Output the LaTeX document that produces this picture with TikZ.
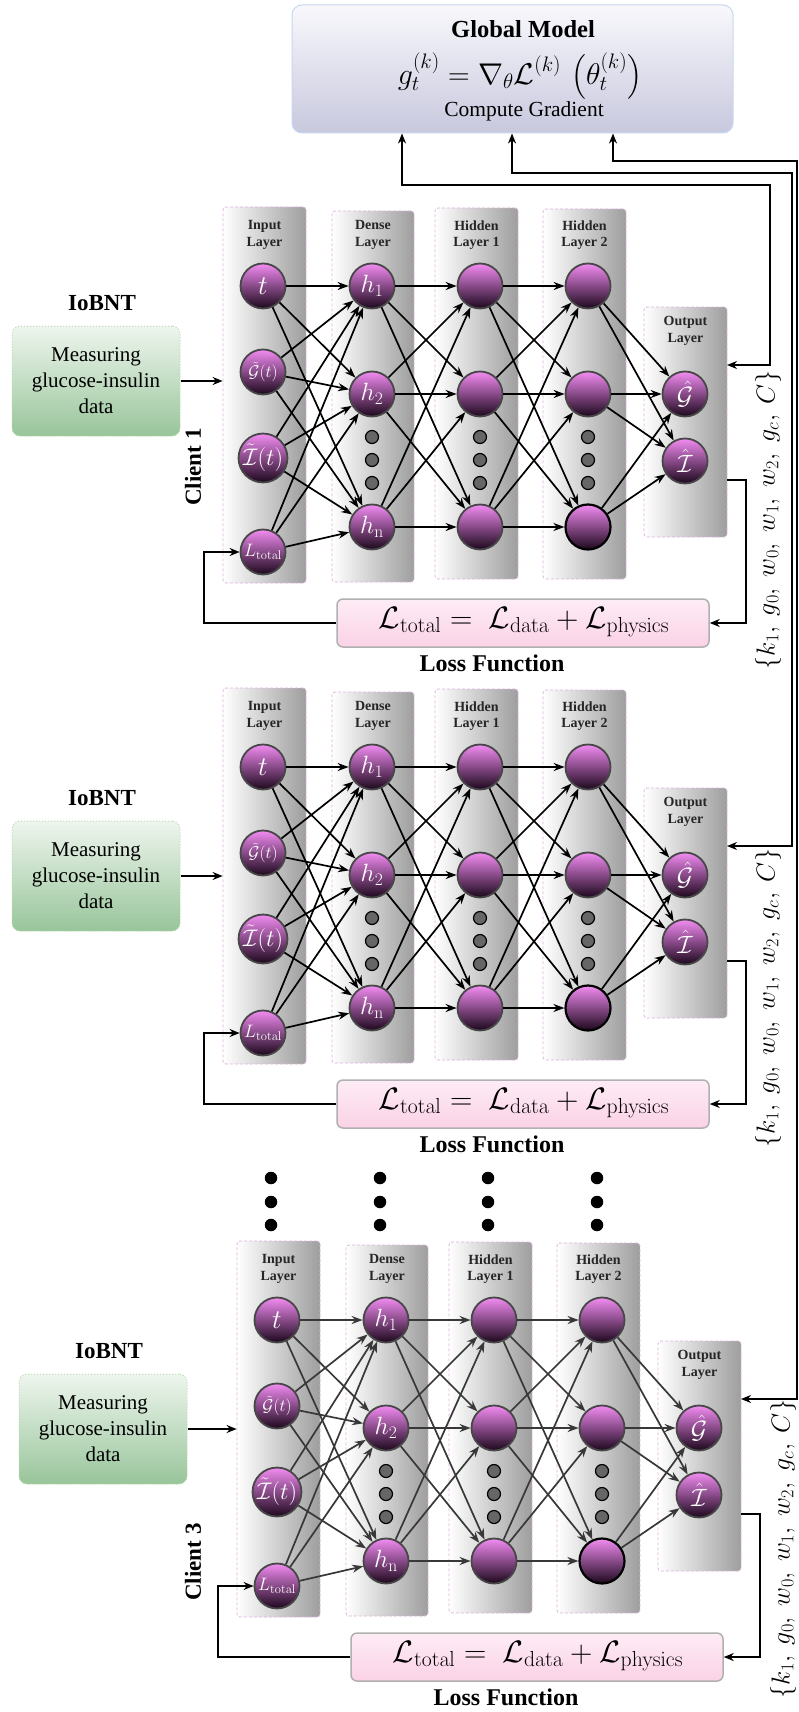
\RequirePackage{fix-cm}
\documentclass[tikz,border=0pt]{standalone}
\usepackage{amsmath}
\usepackage[no-math]{fontspec}
\setmainfont{Liberation Serif}
\usetikzlibrary{arrows.meta}

\definecolor{nodetop}{RGB}{242,140,242}
\definecolor{nodebot}{RGB}{28,8,28}
\definecolor{colborder}{RGB}{222,180,222}
\definecolor{senstop}{RGB}{238,245,238}
\definecolor{sensbot}{RGB}{152,197,154}
\definecolor{sensborder}{RGB}{185,220,175}
\definecolor{glbtop}{RGB}{248,248,252}
\definecolor{glbbot}{RGB}{200,200,222}
\definecolor{glbborder}{RGB}{200,216,240}
\definecolor{losstop}{RGB}{253,236,245}
\definecolor{lossbot}{RGB}{251,210,230}
\definecolor{lossborder}{RGB}{176,176,176}

\tikzset{
  nnode/.style={circle, minimum size=45pt, inner sep=0pt, draw=black!72, line width=1.8pt,
    top color=nodetop, bottom color=nodebot, text=white, font=\fontsize{25}{27}\selectfont},
  gdot/.style={circle, minimum size=13pt, inner sep=0pt, draw=black, line width=1.2pt, fill=black!60},
  bdot/.style={circle, minimum size=12.5pt, inner sep=0pt, fill=black},
  layercol/.style={draw=colborder, dash pattern=on 3pt off 2pt, line width=0.8pt,
    left color=white, right color=black!38, rounded corners=3pt, inner sep=0pt},
  layerlbl/.style={font=\fontsize{14}{16.5}\selectfont\bfseries, align=center, text=black!85},
  nnedge/.style={-{Stealth[length=11pt,width=8pt]}, line width=1.7pt},
  link/.style={line width=1.8pt},
  arrowend/.style={-{Stealth[length=10pt,width=8pt]}},
  arrowboth/.style={{Stealth[length=10pt,width=8pt]}-{Stealth[length=10pt,width=8pt]}},
  sensbox/.style={draw=sensborder, dotted, line width=1pt, rounded corners=8pt,
    top color=senstop, bottom color=sensbot, align=center, inner sep=0pt,
    font=\fontsize{21}{26}\selectfont},
  tagtext/.style={font=\fontsize{23}{26}\selectfont\bfseries},
  lossbox/.style={draw=lossborder, line width=1.5pt, rounded corners=6pt,
    top color=losstop, bottom color=lossbot, inner sep=0pt},
  clientlbl/.style={rotate=90, font=\fontsize{23}{25}\selectfont\bfseries},
  paramlbl/.style={rotate=90, font=\fontsize{26}{28}\selectfont},
}

% one client network: prefix, x shift, y shift, edge colour
\newcommand\netclient[4]{%
\begin{scope}[shift={(#2,#3)}]
  \node[layercol, minimum width=83pt, minimum height=376pt] (#1incol) at (264.5,395) {};
  \node[layercol, minimum width=82pt, minimum height=371pt] (#1dncol) at (373,396.5) {};
  \node[layercol, minimum width=83pt, minimum height=371pt] (#1hacol) at (476.5,393.5) {};
  \node[layercol, minimum width=83pt, minimum height=370pt] (#1hbcol) at (584.5,394) {};
  \node[layercol, minimum width=83pt, minimum height=230pt] (#1outcol) at (685.5,422) {};
  \node[layerlbl] (#1inlbl) at (264.5,235) {Input\\Layer};
  \node[layerlbl] (#1dnlbl) at (373,235) {Dense\\Layer};
  \node[layerlbl] (#1halbl) at (476.5,235) {Hidden\\Layer 1};
  \node[layerlbl] (#1hblbl) at (584.5,235) {Hidden\\Layer 2};
  \node[layerlbl] (#1outlbl) at (685.5,331) {Output\\Layer};
  % neurons
  \node[nnode, font=\fontsize{27}{29}\selectfont] (#1i1) at (263,286) {$t$};
  \node[nnode, font=\fontsize{17}{19}\selectfont] (#1i2) at (263,372) {$\tilde{\mathcal{G}}(t)$};
  \node[nnode, font=\fontsize{24}{26}\selectfont] (#1i3) at (263,458) {$\tilde{\mathcal{I}}(t)$};
  \node[nnode, font=\fontsize{18}{20}\selectfont] (#1i4) at (263,552) {$L_{\mathrm{total}}$};
  \node[nnode] (#1d1) at (372,286) {$h_1$};
  \node[nnode] (#1d2) at (372,394) {$h_2$};
  \node[nnode] (#1d3) at (372,527) {$h_{\mathrm{n}}$};
  \node[nnode] (#1a1) at (480,286) {};
  \node[nnode] (#1a2) at (480,394) {};
  \node[nnode] (#1a3) at (480,527) {};
  \node[nnode] (#1b1) at (588,286) {};
  \node[nnode] (#1b2) at (588,394) {};
  \node[nnode, draw=black, line width=2.2pt] (#1b3) at (588,527) {};
  \node[nnode] (#1o1) at (685,394) {$\hat{\mathcal{G}}$};
  \node[nnode] (#1o2) at (685,461) {$\hat{\mathcal{I}}$};
  \foreach \xx/\cc in {372/d,480/a,588/b}
    \foreach \yy/\kk in {437/1,460/2,483/3}
      \node[gdot] (#1\cc dot\kk) at (\xx,\yy) {};
  % weights
  \foreach \src in {i1,i2,i3,i4}
    \foreach \dst in {d1,d2,d3}
      \draw[nnedge, draw=#4] (#1\src) -- (#1\dst);
  \foreach \src in {d1,d2,d3}
    \foreach \dst in {a1,a2,a3}
      \draw[nnedge, draw=#4] (#1\src) -- (#1\dst);
  \foreach \src in {a1,a2,a3}
    \foreach \dst in {b1,b2,b3}
      \draw[nnedge, draw=#4] (#1\src) -- (#1\dst);
  \foreach \src in {b1,b2,b3}
    \foreach \dst in {o1,o2}
      \draw[nnedge, draw=#4] (#1\src) -- (#1\dst);
  % loss
  \node[lossbox, minimum width=372pt, minimum height=48pt] (#1loss) at (523,623) {};
  \node[font=\fontsize{31}{33}\selectfont] (#1lossf) at (524,622)
    {$\mathcal{L}_{\mathrm{total}} =\ \mathcal{L}_{\mathrm{data}} + \mathcal{L}_{\mathrm{physics}}$};
  \node[font=\fontsize{24}{27}\selectfont\bfseries] (#1losslbl) at (492,663) {Loss Function};
  \coordinate (#1in) at (727,365);
  \coordinate (#1out) at (727,480);
  \coordinate (#1fbl) at (204,552);
  \coordinate (#1fbr) at (746,623);
  \draw[link, arrowend] (#1loss.west) -| (#1fbl) -- (#1i4);
  \draw[link, arrowend] (#1out) -| (#1fbr) -- (#1loss.east);
\end{scope}}

% sensing block: prefix, x shift, y shift
\newcommand\sensorgroup[3]{%
\begin{scope}[shift={(#2,#3)}]
  \node[tagtext] (#1tag) at (102,303) {IoBNT};
  \node[sensbox, minimum width=168pt, minimum height=110pt] (#1sens) at (96,381)
    {Measuring\\glucose-insulin\\data};
\end{scope}}

\begin{document}
\begin{tikzpicture}[x=1pt,y=-1pt]
  \useasboundingbox (0,0) rectangle (798,1712);
  \fill[white] (0,0) rectangle (798,1712);

  % server
  \node[draw=glbborder, line width=1pt, rounded corners=10pt, top color=glbtop, bottom color=glbbot,
        minimum width=441pt, minimum height=128pt] (gbox) at (512.5,69) {};
  \node[font=\fontsize{24.5}{26}\selectfont\bfseries] (gtitle) at (523,29) {Global Model};
  \node[font=\fontsize{30}{32}\selectfont] (gform) at (520,76)
    {$\displaystyle g_t^{(k)} = \nabla_{\theta}\mathcal{L}^{(k)}\,\left(\theta_t^{(k)}\right)$};
  \node[font=\fontsize{21.5}{24}\selectfont] (gsub) at (524,111) {Compute Gradient};

  % clients
  \netclient{c1}{0}{0}{black}
  \netclient{c2}{0}{481}{black}
  \netclient{c3}{14}{1034}{black!78}

  \sensorgroup{s1}{0}{0}
  \sensorgroup{s2}{0}{495}
  \sensorgroup{s3}{7}{1048}
  \draw[link, arrowend] (s1sens.east) -- (s1sens.east -| c1incol.west);
  \draw[link, arrowend] (s2sens.east) -- (s2sens.east -| c2incol.west);
  \draw[link, arrowend] (s3sens.east) -- (s3sens.east -| c3incol.west);

  \node[clientlbl] (cl1) at (193,467) {Client 1};
  \node[clientlbl] (cl3) at (193,1562) {Client 3};

  \node[paramlbl] (pr1) at (768,520) {$\{k_1,\ g_0,\ w_0,\ w_1,\ w_2,\ g_c,\ C\}$};
  \node[paramlbl] (pr2) at (768,998) {$\{k_1,\ g_0,\ w_0,\ w_1,\ w_2,\ g_c,\ C\}$};
  \node[paramlbl] (pr3) at (783,1549) {$\{k_1,\ g_0,\ w_0,\ w_1,\ w_2,\ g_c,\ C\}$};

  % server <-> client links
  \coordinate (up1) at (402,0);
  \coordinate (up2) at (512,0);
  \coordinate (up3) at (613,0);
  \coordinate (rt1) at (770,185);
  \coordinate (rt2) at (792,173);
  \coordinate (rt3) at (797,161);
  \draw[link, arrowboth] (gbox.south -| up1) |- (rt1) |- (c1in);
  \draw[link, arrowboth] (gbox.south -| up2) |- (rt2) |- (c2in);
  \draw[link, arrowboth] (gbox.south -| up3) |- (rt3) |- (c3in);

  % further clients
  \foreach \xx [count=\ii] in {271,380,488,597}
    \foreach \yy [count=\jj] in {1178,1202,1225}
      \node[bdot] (more\ii\jj) at (\xx,\yy) {};
\end{tikzpicture}
\end{document}
